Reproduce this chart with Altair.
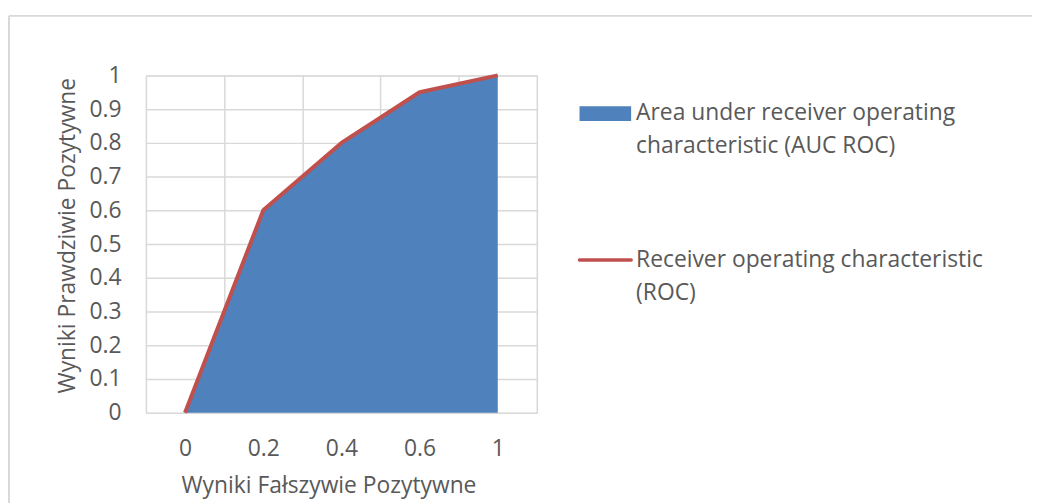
import altair as alt
import pandas as pd

# Data
fpr_labels = ["0", "0.2", "0.4", "0.6", "1"]
tpr_values = [0.0, 0.6, 0.8, 0.95, 1.0]
y_ticks = [0, 0.1, 0.2, 0.3, 0.4, 0.5, 0.6, 0.7, 0.8, 0.9, 1]
series_area = "Area under receiver operating\ncharacteristic (AUC ROC)"
series_line = "Receiver operating characteristic\n(ROC)"
x_title = "Wyniki Fałszywie Pozytywne"
y_title = "Wyniki Prawdziwie Pozytywne"

df = pd.DataFrame({"fpr": fpr_labels, "tpr": tpr_values})

FONT = "Open Sans"
FS = 23
TXT = "#595959"
GRID = "#D9D9D9"
BLUE = "#4F81BD"
RED = "#C0504D"

x_enc = alt.X(
    "fpr:O", sort=None, bandPosition=0.5,
    scale=alt.Scale(type="band", paddingInner=0, paddingOuter=0),
    axis=alt.Axis(
        title=x_title, tickBand="extent", grid=True, gridColor=GRID, gridWidth=1.5,
        domain=False, ticks=False, labelAngle=0, labelFont=FONT, labelFontSize=FS,
        labelColor=TXT, labelPadding=25, labelOverlap=False, titleFont=FONT,
        titleFontSize=FS, titleFontWeight="normal", titleColor=TXT, titleX=184,
        titleY=73, titleBaseline="middle", titleAlign="center",
    ),
)
y_enc = alt.Y(
    "tpr:Q",
    scale=alt.Scale(domain=[0, 1], nice=False, zero=True),
    axis=alt.Axis(
        title=y_title, values=y_ticks, format="~g", grid=True, gridColor=GRID,
        gridWidth=1.5, domain=False, ticks=False, labelFont=FONT, labelFontSize=FS,
        labelColor=TXT, labelPadding=25, labelOverlap=False, labelBaseline="middle",
        titleFont=FONT, titleFontSize=FS, titleFontWeight="normal", titleColor=TXT,
        titleX=-79, titleY=161, titleBaseline="middle", titleAlign="center",
        titleAngle=270,
    ),
)

area = alt.Chart(df).mark_area(color=BLUE, opacity=1).encode(x=x_enc, y=y_enc)
line = alt.Chart(df).mark_line(color=RED, strokeWidth=4, strokeJoin="round").encode(
    x=x_enc, y=y_enc
)

# Outer chart border (top and left edges visible in the frame)
bdf = pd.DataFrame({"a": [0]})
border_top = alt.Chart(bdf).mark_rule(color=GRID, strokeWidth=2).encode(
    x=alt.value(-138), x2=alt.value(893), y=alt.value(-60)
)
border_left = alt.Chart(bdf).mark_rule(color=GRID, strokeWidth=2).encode(
    x=alt.value(-138), y=alt.value(-60), y2=alt.value(600)
)

# Manual legend
leg_rect = alt.Chart(bdf).mark_rect(color=BLUE).encode(
    x=alt.value(437), x2=alt.value(489), y=alt.value(31), y2=alt.value(46)
)
leg_rule = alt.Chart(bdf).mark_rule(color=RED, strokeWidth=3.5, strokeCap="round").encode(
    x=alt.value(437), x2=alt.value(489), y=alt.value(186)
)
leg_t1 = alt.Chart(bdf).mark_text(
    text=series_area, lineBreak="\n", align="left", baseline="middle",
    font=FONT, fontSize=FS, color=TXT, lineHeight=33.5
).encode(x=alt.value(494), y=alt.value(38))
leg_t2 = alt.Chart(bdf).mark_text(
    text=series_line, lineBreak="\n", align="left", baseline="middle",
    font=FONT, fontSize=FS, color=TXT, lineHeight=33.5
).encode(x=alt.value(494), y=alt.value(186))

chart = alt.layer(
    border_top, border_left, area, line, leg_rect, leg_rule, leg_t1, leg_t2
).properties(
    width=394, height=340,
    autosize=alt.AutoSizeParams(type="none"),
    padding={"left": 139, "top": 66, "right": 499, "bottom": 89},
).configure_view(stroke=None).configure(background="white")

chart.save("out.html", embed_options={"renderer": "svg", "actions": False})
